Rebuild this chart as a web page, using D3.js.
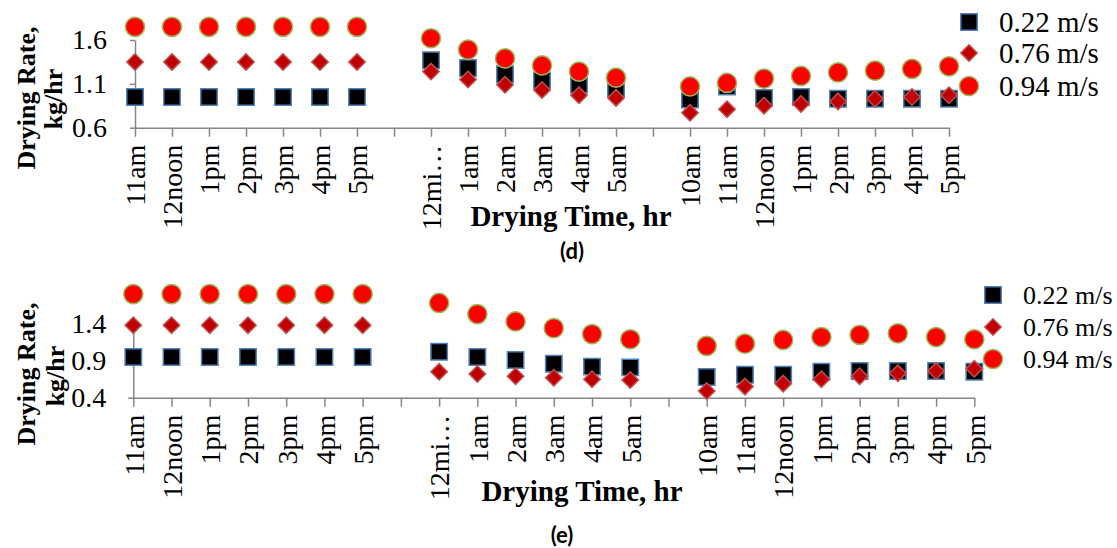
<!DOCTYPE html>
<html>
<head>
<meta charset="utf-8">
<title>Drying Rate vs Drying Time</title>
<script src="https://d3js.org/d3.v7.min.js"></script>
<style>
    body { margin: 0; background: #fff; }
    .axis path, .axis line { stroke: #868686; stroke-width: 1.5; }
</style>
</head>
<body>
<div id="chart"></div>
<script>
// categories on the x axis (two blank gaps between days)
const categories = ["11am","12noon","1pm","2pm","3pm","4pm","5pm","",
    "12mi\u2026","1am","2am","3am","4am","5am","",
    "10am","11am","12noon","1pm","2pm","3pm","4pm","5pm"];
const seriesNames = ["0.22 m/s", "0.76 m/s", "0.94 m/s"];

// panel (d)
const d_v022 = [0.95,0.95,0.95,0.95,0.95,0.95,0.95,null,
    1.37,1.28,1.21,1.14,1.09,1.05,null,
    0.92,1.07,0.94,0.95,0.93,0.93,0.93,0.93];
const d_v076 = [1.35,1.35,1.35,1.35,1.35,1.35,1.35,null,
    1.24,1.15,1.09,1.03,0.97,0.94,null,
    0.77,0.81,0.85,0.87,0.90,0.93,0.95,0.97];
const d_v094 = [1.75,1.75,1.75,1.75,1.75,1.75,1.75,null,
    1.62,1.49,1.39,1.31,1.24,1.17,null,
    1.07,1.11,1.16,1.19,1.23,1.25,1.27,1.30];
const d_ticks = [0.6, 1.1, 1.6];

// panel (e)
const e_v022 = [0.95,0.95,0.95,0.95,0.95,0.95,0.95,null,
    1.02,0.95,0.91,0.86,0.82,0.81,null,
    0.68,0.71,0.71,0.75,0.76,0.76,0.76,0.75];
const e_v076 = [1.38,1.38,1.38,1.38,1.38,1.38,1.38,null,
    0.75,0.72,0.69,0.67,0.65,0.64,null,
    0.49,0.55,0.59,0.65,0.69,0.73,0.76,0.79];
const e_v094 = [1.80,1.80,1.80,1.80,1.80,1.80,1.80,null,
    1.68,1.53,1.43,1.34,1.26,1.19,null,
    1.10,1.13,1.18,1.22,1.25,1.27,1.22,1.19];
const e_ticks = [0.4, 0.9, 1.4];

const svg = d3.select("#chart").append("svg")
    .attr("width", 1117).attr("height", 548);

// pick the installed face whose widths match Times / Arial metrics
const fontCandidates = ["Liberation Serif","Times New Roman","Tinos","serif","sans-serif",
    "DejaVu Serif","Noto Serif","Liberation Sans","Arial","Arimo","Noto Sans","DejaVu Sans",
    "Roboto","Open Sans","Lato","Inter"];
function pickFont(sample, target) {
    let best = null, bestErr = Infinity;
    fontCandidates.forEach(f => {
        const t = svg.append("text").style("font-family", `'${f}'`)
            .style("font-size", "40px").text(sample);
        const err = Math.abs(t.node().getComputedTextLength() - target);
        t.remove();
        if (err < bestErr) { bestErr = err; best = f; }
    });
    return `'${best}'`;
}
const serifFont = pickFont("11am 12noon 0.22 m/s Drying", 498);
const sansFont = pickFont("Drying Time 0.22", 304.5);

const markerStyle = [
    { shape: d3.symbolSquare, size: 270, fill: "#000000", stroke: "#4f81bd", rot: 0 },
    { shape: d3.symbolSquare, size: 135, fill: "#c00000", stroke: "#c0504d", rot: 45 },
    { shape: d3.symbolCircle, size: 290, fill: "#ff0000", stroke: "#9bbb59", rot: 0 }
];

function drawPanel(p) {
    const g = svg.append("g");
    const x = d3.scalePoint().domain(d3.range(categories.length)).range([p.x0, p.x1]);
    const y = d3.scaleLinear().domain([p.ticks[0], p.ticks[2]]).range([p.y0, p.y1]);

    // y axis
    const ya = g.append("g").attr("class", "axis")
        .attr("transform", `translate(${p.x0},0)`)
        .call(d3.axisLeft(y).tickValues(p.ticks).tickFormat(d3.format(".1f"))
            .tickSize(5).tickSizeOuter(0).tickPadding(p.yPad));
    ya.selectAll("text").style("font-family", serifFont).style("font-size", "28px").attr("fill", "#000");

    // x axis
    const xa = g.append("g").attr("class", "axis")
        .attr("transform", `translate(0,${p.y0})`)
        .call(d3.axisBottom(x).tickFormat(i => categories[i]).tickSize(9).tickSizeOuter(0));
    xa.selectAll("text")
        .attr("transform", "rotate(-90)")
        .attr("x", -17).attr("y", 0).attr("dy", "0.35em")
        .attr("text-anchor", "end").attr("fill", "#000")
        .style("font-family", serifFont).style("font-size", "28px");
    ya.raise();

    // markers
    p.series.forEach((vals, si) => {
        const m = markerStyle[si];
        const sym = d3.symbol().type(m.shape).size(m.size);
        g.append("g").selectAll("path")
            .data(vals.map((v, i) => ({ i, v })).filter(d => d.v != null))
            .join("path")
            .attr("d", sym)
            .attr("transform", d => `translate(${x(d.i)},${y(d.v)}) rotate(${m.rot})`)
            .attr("fill", m.fill).attr("stroke", m.stroke).attr("stroke-width", 1.5);
    });

    // y title
    [["Drying Rate,", p.yt1], ["kg/hr", p.yt2]].forEach(([txt, pos]) => {
        g.append("text").attr("transform", `translate(${pos[0]},${pos[1]}) rotate(-90)`)
            .attr("text-anchor", "middle").attr("dy", "0.35em")
            .style("font-family", serifFont)
            .style("font-size", "26px").style("font-weight", "bold").text(txt);
    });

    // x title and panel label
    g.append("text").attr("x", p.xt[0]).attr("y", p.xt[1])
        .attr("text-anchor", "middle").style("font-family", serifFont)
        .style("font-size", "29px").style("font-weight", "bold").text("Drying Time, hr");
    g.append("text").attr("x", p.lab[0]).attr("y", p.lab[1])
        .attr("text-anchor", "middle").style("font-family", sansFont)
        .style("font-size", "22px").style("font-weight", "bold").text(p.label);

    // legend
    seriesNames.forEach((name, si) => {
        const m = markerStyle[si];
        const ly = p.leg.y[si];
        g.append("path")
            .attr("d", d3.symbol().type(m.shape).size(m.size))
            .attr("transform", `translate(${p.leg.mx},${ly}) rotate(${m.rot})`)
            .attr("fill", m.fill).attr("stroke", m.stroke).attr("stroke-width", 1.5);
        g.append("text").attr("x", p.leg.tx).attr("y", ly).attr("dy", "0.35em")
            .style("font-family", serifFont)
            .style("font-size", p.leg.fs + "px").text(name);
    });
}

drawPanel({
    x0: 135, x1: 949, y0: 127.7, y1: 40, ticks: d_ticks, yPad: 23,
    series: [d_v022, d_v076, d_v094],
    yt1: [26, 98], yt2: [53, 99], xt: [571, 226], lab: [572, 259], label: "(d)",
    leg: { mx: 969, tx: 999, y: [22, 53, 86], fs: 29 }
});

drawPanel({
    x0: 133.3, x1: 974.3, y0: 397.7, y1: 323.7, ticks: e_ticks, yPad: 22,
    series: [e_v022, e_v076, e_v094],
    yt1: [26, 374], yt2: [55, 376], xt: [582, 501], lab: [562, 543], label: "(e)",
    leg: { mx: 993, tx: 1023, y: [295, 327, 359], fs: 26 }
});
</script>
</body>
</html>
